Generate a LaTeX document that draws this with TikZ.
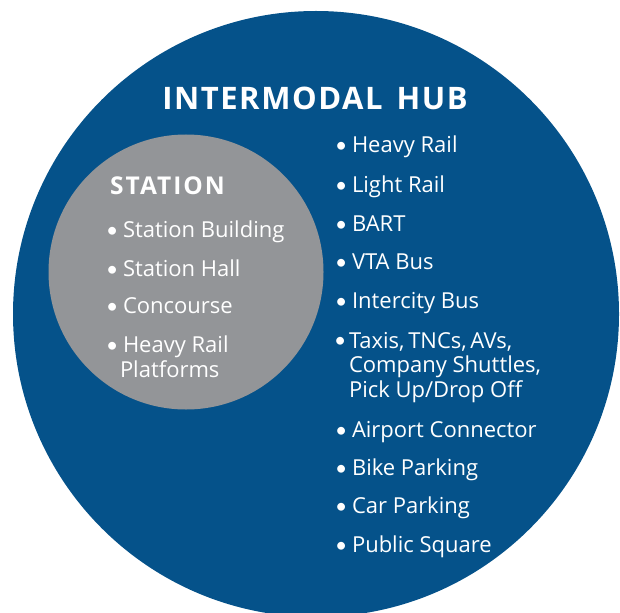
\documentclass[tikz,border=0pt]{standalone}
\usepackage{fontspec}
\setmainfont{Open Sans}
\newfontfamily\bulfont{Lato}
\definecolor{hubblue}{HTML}{05528A}
\definecolor{stgray}{HTML}{939598}
\begin{document}
\begin{tikzpicture}[x=1pt,y=-1pt,
  txt/.style={anchor=base west, inner sep=0pt, outer sep=0pt, text=white, font=\fontsize{22}{24.5}\selectfont, align=left},
  bul/.style={anchor=base west, inner sep=0pt, outer sep=0pt, text=white, font=\bulfont\fontsize{21}{25}\selectfont},
  ttl/.style={anchor=base, inner sep=0pt, text=white, font=\bfseries\fontsize{31}{36}\selectfont\addfontfeatures{LetterSpace=5}},
  sttl/.style={anchor=base west, inner sep=0pt, text=white, font=\bfseries\fontsize{24.5}{28}\selectfont\addfontfeatures{LetterSpace=8}},
  disc/.style={circle, inner sep=0pt, outer sep=0pt}]
\useasboundingbox (0,0) rectangle (620,612);
\begin{scope}
\clip (0,0) rectangle (620,612);
\node[disc, fill=hubblue, minimum size=606pt] (hub) at (316,314) {};
\end{scope}
\node[disc, fill=stgray, minimum size=275pt] (station) at (186,272) {};
\node[ttl] (hubtitle) at (315,110) {INTERMODAL\hspace{14pt}HUB};
\node[sttl] (sttitle) at (110,195) {STATION};
% station items
\node[bul] (sb1) at (106,237) {•};
\node[txt] (s1) at (123,237) {Station Building};
\node[bul] (sb2) at (106,276) {•};
\node[txt] (s2) at (123,276) {Station Hall};
\node[bul] (sb3) at (106,313) {•};
\node[txt] (s3) at (123,313) {Concourse};
\node[bul] (sb4) at (106,352) {•};
\node[txt] (s4) at (123,377) {Heavy Rail\\\hspace*{-3pt}Platforms};
% hub items
\node[bul] (hb1) at (335,153) {•};
\node[txt] (h1) at (352,153) {Heavy Rail};
\node[bul] (hb2) at (335,193) {•};
\node[txt] (h2) at (352,193) {Light Rail};
\node[bul] (hb3) at (335,231) {•};
\node[txt] (h3) at (352,231) {BART};
\node[bul] (hb4) at (335,269) {•};
\node[txt] (h4) at (352,269) {VTA Bus};
\node[bul] (hb5) at (335,308) {•};
\node[txt] (h5) at (352,308) {Intercity Bus};
\node[bul] (hb6) at (334,347) {•};
\node[txt] (h6) at (349,397) {Taxis,\,TNCs,\,AVs,\\Company Shuttles,\\Pick Up/Drop Off};
\node[bul] (hb7) at (335,437) {•};
\node[txt] (h7) at (352,437) {Airport Connector};
\node[bul] (hb8) at (335,475) {•};
\node[txt] (h8) at (352,475) {Bike Parking};
\node[bul] (hb9) at (335,513) {•};
\node[txt] (h9) at (352,513) {Car Parking};
\node[bul] (hb10) at (335,552) {•};
\node[txt] (h10) at (352,552) {Public Square};
\end{tikzpicture}
\end{document}
